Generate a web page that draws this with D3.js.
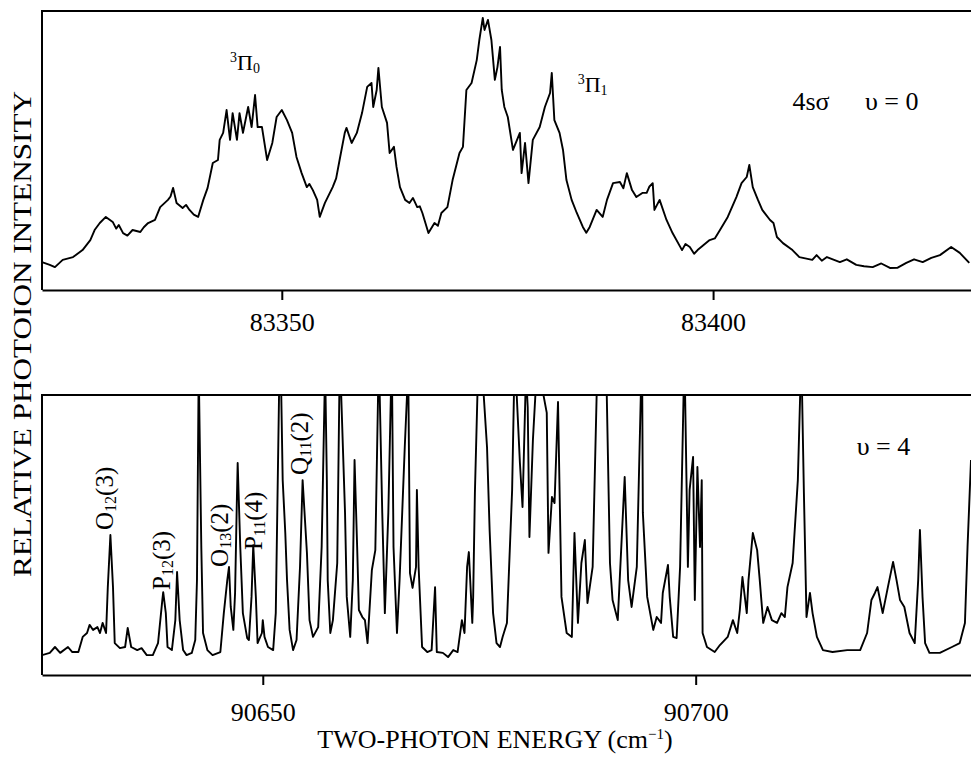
<!DOCTYPE html>
<meta charset="utf-8">
<style>
    html,
    body {
        margin: 0;
        padding: 0;
        background: #fff;
    }

    svg {
        display: block;
    }

    svg text {
        font-family: "Liberation Serif", "DejaVu Serif", serif;
        fill: #000;
    }

    .frame,
    .axis path,
    .axis line {
        stroke: #000;
        stroke-width: 2;
        fill: none;
    }

    .spectrum {
        fill: none;
        stroke: #000;
        stroke-width: 1.9;
        stroke-linejoin: round;
    }
</style>
<svg id="chart" width="971" height="761"></svg>
<script src="https://d3js.org/d3.v7.min.js"></script>
<script>
    // 4s sigma, v = 0 band : [energy (cm-1), relative intensity]
    let topSpectrum = [
        [83322.2, 10.0], [83323.1, 9.0], [83323.7, 8.2], [83324.6, 10.8], [83325.8, 11.8],
        [83326.9, 14.3], [83327.8, 17.9], [83328.3, 21.5], [83328.9, 24.0], [83329.6, 26.2],
        [83330.4, 24.4], [83330.8, 22.0], [83331.1, 23.3], [83331.6, 20.4], [83332.1, 19.5],
        [83332.7, 21.5], [83333.6, 20.8], [83334.0, 22.5], [83334.5, 24.0],
        [83335.3, 25.1], [83335.9, 29.7], [83336.8, 32.3], [83337.1, 33.5], [83337.4, 36.6],
        [83337.8, 31.2], [83338.5, 29.4], [83338.9, 30.5], [83339.3, 28.7], [83339.8, 27.0],
        [83340.3, 26.2], [83340.9, 32.3], [83341.4, 36.6],
        [83342.0, 45.5], [83342.6, 46.6], [83342.8, 53.8], [83343.2, 56.3], [83343.6, 64.5],
        [83344.0, 53.8], [83344.3, 63.4], [83344.8, 53.8], [83345.1, 63.4], [83345.5, 56.3],
        [83346.1, 65.6], [83346.5, 58.4], [83346.9, 69.9], [83347.2, 58.4], [83347.7, 58.4],
        [83348.3, 46.6], [83348.9, 52.7], [83349.4, 62.0], [83350.0, 64.5], [83350.6, 60.9],
        [83351.2, 56.3], [83351.7, 47.7], [83352.3, 41.9], [83352.9, 36.9], [83353.2, 38.0],
        [83353.6, 35.8], [83354.1, 32.3], [83354.4, 26.2], [83355.0, 31.2], [83355.9, 36.9],
        [83356.3, 40.0], [83356.7, 46.6],
        [83357.3, 56.3], [83357.5, 58.1], [83358.1, 52.7], [83358.7, 56.3], [83359.3, 63.4],
        [83359.9, 72.8], [83360.4, 74.2], [83360.6, 65.6], [83361.0, 71.7], [83361.2, 79.6],
        [83361.6, 65.6], [83362.2, 59.9], [83362.5, 49.1], [83363.0, 51.3], [83363.3, 44.1],
        [83363.7, 36.9], [83364.3, 32.3], [83364.8, 31.2], [83365.2, 33.0], [83365.7, 29.7],
        [83366.0, 30.0], [83366.3, 27.6], [83367.0, 20.4], [83367.7, 24.0], [83368.1, 23.0],
        [83368.5, 27.6], [83369.2, 29.7], [83369.8, 39.4],
        [83370.6, 49.1], [83371.0, 51.3], [83371.4, 71.7], [83372.0, 74.2], [83372.6, 82.4],
        [83372.9, 89.6], [83373.3, 97.5], [83373.5, 93.2], [83373.9, 96.8], [83374.3, 89.6],
        [83374.7, 75.3], [83375.0, 79.9], [83375.3, 87.1], [83375.5, 71.7], [83375.8, 65.6],
        [83376.2, 62.0], [83376.8, 50.2], [83377.6, 56.3], [83377.8, 41.9], [83378.2, 52.7],
        [83378.6, 38.3], [83379.1, 53.8], [83379.9, 58.4], [83380.5, 65.6], [83381.1, 70.6],
        [83381.3, 77.8], [83381.6, 60.9], [83382.2, 56.3], [83382.6, 50.2], [83383.0, 39.4],
        [83383.6, 32.3], [83384.2, 27.6], [83384.9, 22.6], [83385.3, 20.5], [83385.7, 22.6],
        [83386.5, 28.7], [83387.2, 26.2], [83387.7, 32.3], [83388.4, 38.3], [83389.2, 38.7],
        [83389.6, 36.5], [83390.0, 41.9],
        [83390.6, 35.8], [83391.1, 33.3], [83391.8, 34.8], [83392.3, 34.8], [83392.6, 37.0],
        [83393.0, 38.3], [83393.2, 28.7], [83393.8, 32.3], [83394.6, 25.1], [83395.3, 20.4],
        [83396.4, 14.3], [83396.8, 16.5], [83397.3, 15.4], [83397.8, 13.0], [83398.2, 14.3],
        [83399.6, 17.9], [83400.2, 18.5], [83400.8, 21.5], [83401.7, 26.2],
        [83402.7, 33.3], [83403.3, 38.3], [83403.9, 40.5], [83404.2, 44.8], [83404.6, 36.9],
        [83405.2, 32.3], [83405.7, 28.7], [83406.6, 25.1], [83407.0, 24.0], [83407.4, 19.0],
        [83408.1, 16.8], [83409.2, 14.3], [83410.0, 11.8], [83411.5, 10.8], [83412.0, 12.5],
        [83412.6, 10.5], [83413.2, 11.8], [83414.7, 10.0], [83415.5, 11.0],
        [83416.6, 9.0], [83417.5, 8.5], [83418.5, 8.2], [83419.5, 9.5], [83420.5, 7.9],
        [83421.4, 8.0], [83422.4, 9.7], [83423.3, 11.0], [83424.3, 10.0], [83425.3, 11.5],
        [83426.3, 12.5], [83427.6, 15.4], [83428.6, 13.3], [83429.7, 9.7]
    ];

    // v = 4 band : [energy (cm-1), relative intensity], peaks above 100 run off scale
    let bottomSpectrum = [
        [90624.5, 7.1], [90625.4, 7.9], [90626.0, 10.0], [90626.6, 7.9], [90627.5, 10.0],
        [90628.0, 8.2], [90628.7, 8.2], [90629.2, 13.6], [90629.7, 15.0], [90630.0, 17.9],
        [90630.4, 16.1], [90630.9, 17.1], [90631.2, 15.0], [90631.5, 18.6], [90631.9, 15.0],
        [90632.1, 31.4], [90632.4, 50.0], [90632.7, 31.4], [90632.9, 11.4], [90633.5, 9.6],
        [90634.1, 10.0], [90634.4, 16.8], [90634.8, 10.0], [90635.5, 8.9], [90636.0, 9.6],
        [90636.6, 7.1], [90637.3, 7.1], [90637.9, 11.4], [90638.4, 26.8], [90638.5, 29.6],
        [90638.8, 22.1], [90639.0, 10.0], [90639.5, 8.9], [90639.9, 19.6], [90640.1, 36.8],
        [90640.4, 19.6], [90640.8, 8.9], [90641.2, 7.1], [90641.8, 7.9], [90642.2, 12.5],
        [90642.4, 33.9], [90642.6, 110], [90642.9, 45.7], [90643.1, 15.0], [90643.6, 8.9],
        [90644.2, 7.1], [90645.1, 8.2], [90645.5, 22.1], [90645.9, 33.9], [90646.1, 38.6],
        [90646.3, 24.3], [90646.6, 16.1], [90646.8, 29.3], [90647.0, 61.4], [90647.1, 75.7],
        [90647.4, 45.7], [90647.7, 22.1], [90648.2, 13.2], [90648.4, 12.5], [90648.7, 27.9],
        [90648.9, 46.4], [90649.2, 27.9], [90649.4, 11.4], [90649.9, 15.0], [90650.0, 19.6],
        [90650.2, 13.6], [90650.6, 10.0], [90651.2, 8.9], [90651.5, 22.1], [90652.0, 125],
        [90652.3, 69.6], [90652.6, 50.7], [90652.8, 33.9], [90653.1, 16.1], [90653.5, 8.9],
        [90653.9, 12.5], [90654.3, 38.6], [90654.6, 69.6], [90655.1, 43.6], [90655.4, 19.6],
        [90655.8, 13.6], [90656.4, 17.1], [90656.8, 45.7], [90657.2, 110], [90657.4, 69.6],
        [90657.5, 33.9], [90657.8, 15.0], [90658.1, 19.6], [90658.6, 40.0], [90658.9, 115],
        [90659.5, 57.9], [90659.7, 27.9], [90660.1, 13.6], [90660.4, 33.9], [90660.6, 76.8],
        [90660.9, 45.7], [90661.1, 23.2], [90661.5, 20.7], [90661.8, 19.6], [90662.1, 11.4],
        [90662.6, 37.5], [90663.0, 44.6], [90663.4, 115], [90663.8, 57.9], [90664.1, 22.1],
        [90664.5, 57.9], [90664.9, 115], [90665.1, 45.7], [90665.5, 15.0], [90665.8, 33.9],
        [90666.4, 81.4], [90666.8, 110], [90667.0, 36.4], [90667.3, 31.1], [90667.7, 38.6],
        [90667.8, 66.1], [90668.0, 38.6], [90668.4, 10.0], [90669.0, 8.2], [90669.5, 8.9],
        [90669.9, 31.4], [90670.1, 8.2], [90670.8, 7.9], [90671.4, 6.4], [90672.0, 8.9],
        [90672.5, 8.2], [90673.0, 19.6], [90673.3, 15.0], [90673.6, 38.6], [90673.8, 43.9],
        [90674.2, 18.6], [90674.3, 27.9], [90674.5, 65.0], [90675.0, 125], [90675.9, 81.4],
        [90676.2, 51.8], [90676.6, 22.1], [90677.0, 11.4], [90677.4, 10.0], [90677.7, 13.6],
        [90678.2, 18.6], [90678.8, 66.1], [90679.1, 115], [90679.7, 75.7], [90680.0, 60.0],
        [90680.4, 108], [90680.6, 95.7], [90680.8, 49.3], [90681.2, 83.9], [90681.7, 112],
        [90682.8, 93.6], [90683.0, 43.6], [90683.4, 63.6], [90683.7, 61.4], [90684.1, 97.5],
        [90684.5, 27.9], [90685.1, 15.0], [90685.7, 13.6], [90686.0, 50.7], [90686.4, 18.6],
        [90686.8, 40.0], [90687.2, 48.2], [90687.5, 25.7], [90688.1, 38.6], [90688.6, 105],
        [90689.2, 125], [90689.7, 105], [90690.1, 40.0], [90690.4, 26.8], [90691.0, 19.6],
        [90691.8, 70.7], [90692.2, 33.9], [90692.6, 24.3], [90693.2, 38.6], [90693.8, 118],
        [90693.9, 57.9], [90694.4, 27.9], [90695.1, 16.1], [90695.5, 20.7], [90696.0, 18.6],
        [90696.2, 29.3], [90696.8, 39.3], [90697.0, 27.9], [90697.4, 13.6], [90697.8, 13.2],
        [90698.2, 38.6], [90698.7, 115], [90699.1, 38.6], [90699.3, 66.1], [90699.7, 77.9],
        [90699.9, 26.8], [90700.2, 74.3], [90700.5, 45.7], [90700.7, 69.6], [90700.8, 15.0],
        [90701.3, 10.0], [90702.2, 8.2], [90702.8, 10.7], [90703.7, 13.6], [90704.3, 19.6],
        [90704.8, 15.0], [90705.1, 23.2], [90705.4, 35.0], [90705.9, 22.1], [90706.1, 33.9],
        [90706.6, 50.7], [90707.1, 44.6], [90707.4, 33.9], [90707.8, 18.6], [90708.3, 24.3],
        [90708.8, 19.6], [90709.4, 18.6], [90709.9, 22.1], [90710.3, 20.7], [90710.6, 31.4],
        [90711.2, 40.0], [90711.8, 69.6], [90712.2, 115], [90712.5, 65.0], [90712.8, 20.7],
        [90713.2, 29.3], [90713.5, 22.1], [90714.0, 13.6], [90714.7, 8.9], [90715.8, 8.2],
        [90717.5, 8.9], [90719.0, 8.9], [90719.8, 15.0], [90720.3, 26.8], [90720.7, 29.3],
        [90721.0, 31.4], [90721.6, 22.1], [90722.2, 31.4], [90722.8, 40.4], [90723.2, 33.9],
        [90723.6, 26.8], [90724.1, 24.3], [90724.7, 15.0], [90725.3, 11.4], [90725.7, 33.9],
        [90725.9, 51.8], [90726.2, 27.9], [90726.5, 11.4], [90727.0, 7.9], [90728.2, 7.9],
        [90729.6, 10.0], [90730.5, 11.4], [90731.1, 18.6], [90731.4, 45.7], [90731.8, 76.8]
    ];

    let topTicks = [83350, 83400];
    let bottomTicks = [90650, 90700];

    // rotated line assignments, anchored at the foot of each label
    let lineLabels = [
        {branch: "O", sub: "12", J: "(3)", w: 90632.7, I: 51.8},
        {branch: "P", sub: "12", J: "(3)", w: 90639.3, I: 30.4},
        {branch: "O", sub: "13", J: "(2)", w: 90646.0, I: 38.6},
        {branch: "P", sub: "11", J: "(4)", w: 90649.9, I: 44.6},
        {branch: "Q", sub: "11", J: "(2)", w: 90655.2, I: 71.4}
    ];

    let svg = d3.select("#chart");
    let left = 42, right = 971;

    let xTop = d3.scaleLinear().domain([83322.2, 83429.9]).range([left, right]);
    let yTop = d3.scaleLinear().domain([0, 100]).range([290, 11]);
    let xBot = d3.scaleLinear().domain([90624.5, 90731.8]).range([left, right]);
    let yBot = d3.scaleLinear().domain([0, 100]).range([675, 395]);

    // clip for the off-scale peaks of the lower panel
    svg.append("clipPath").attr("id", "clipBot")
        .append("rect")
        .attr("x", left).attr("y", yBot(100))
        .attr("width", right - left).attr("height", yBot(0) - yBot(100));

    function panel(x, y, data, ticks, pad, clip) {
        let g = svg.append("g");

        // open frame: top and left lines, bottom is the axis
        g.append("path").attr("class", "frame")
            .attr("d", `M${right},${y(100)}H${left}V${y(0)}`);

        let axis = d3.axisBottom(x)
            .tickValues(ticks)
            .tickFormat(d3.format("d"))
            .tickSize(10)
            .tickSizeOuter(0)
            .tickPadding(pad);

        g.append("g").attr("class", "axis")
            .attr("transform", `translate(0,${y(0)})`)
            .call(axis)
            .attr("font-family", null)
            .call(a => a.selectAll("text")
                .attr("fill", "#000")
                .style("font-size", "26px"));

        let line = d3.line()
            .x(d => x(d[0]))
            .y(d => y(d[1]));

        let p = g.append("path")
            .datum(data)
            .attr("class", "spectrum")
            .attr("d", line);
        if (clip) p.attr("clip-path", "url(#clipBot)");
        return g;
    }

    let topG = panel(xTop, yTop, topSpectrum, topTicks, 13, false);
    let botG = panel(xBot, yBot, bottomSpectrum, bottomTicks, 18, true);

    // state labels, upper panel
    function piLabel(w, I, sub) {
        let t = topG.append("text")
            .attr("x", xTop(w)).attr("y", yTop(I))
            .style("font-size", "22px");
        t.append("tspan").attr("font-size", "14px").attr("dy", -8).text("3");
        t.append("tspan").attr("dy", 8).text("\u03A0");
        t.append("tspan").attr("font-size", "14px").attr("dy", 3).text(sub);
    }
    piLabel(83344.0, 78.9, "0");
    piLabel(83384.3, 71.0, "1");

    topG.append("text")
        .attr("x", xTop(83409.2)).attr("y", yTop(64.5))
        .style("font-size", "26px")
        .text("4s\u03C3");
    topG.append("text")
        .attr("x", xTop(83417.6)).attr("y", yTop(64.5))
        .style("font-size", "26px")
        .text("\u03C5 = 0");

    botG.append("text")
        .attr("x", xBot(90718.6)).attr("y", yBot(78.6))
        .style("font-size", "26px")
        .text("\u03C5 = 4");

    botG.selectAll(".line-label")
        .data(lineLabels)
        .join("text")
        .attr("class", "line-label")
        .attr("transform", d => `translate(${xBot(d.w)},${yBot(d.I)}) rotate(-90)`)
        .style("font-size", "25px")
        .each(function (d) {
            let t = d3.select(this);
            t.append("tspan").text(d.branch);
            t.append("tspan").attr("font-size", "16px").attr("dy", 3).text(d.sub);
            t.append("tspan").attr("dy", -3).text(d.J);
        });

    // axis titles
    svg.append("text")
        .attr("transform", "translate(31,334) rotate(-90)")
        .attr("text-anchor", "middle")
        .attr("textLength", 486)
        .attr("lengthAdjust", "spacingAndGlyphs")
        .style("font-size", "26px")
        .text("RELATIVE  PHOTOION  INTENSITY");

    let xt = svg.append("text")
        .attr("x", 495).attr("y", 748)
        .attr("text-anchor", "middle")
        .style("font-size", "26px");
    xt.append("tspan").text("TWO-PHOTON ENERGY (cm");
    xt.append("tspan").attr("font-size", "15px").attr("dy", -9).text("\u22121");
    xt.append("tspan").attr("dy", 9).text(")");
</script>
